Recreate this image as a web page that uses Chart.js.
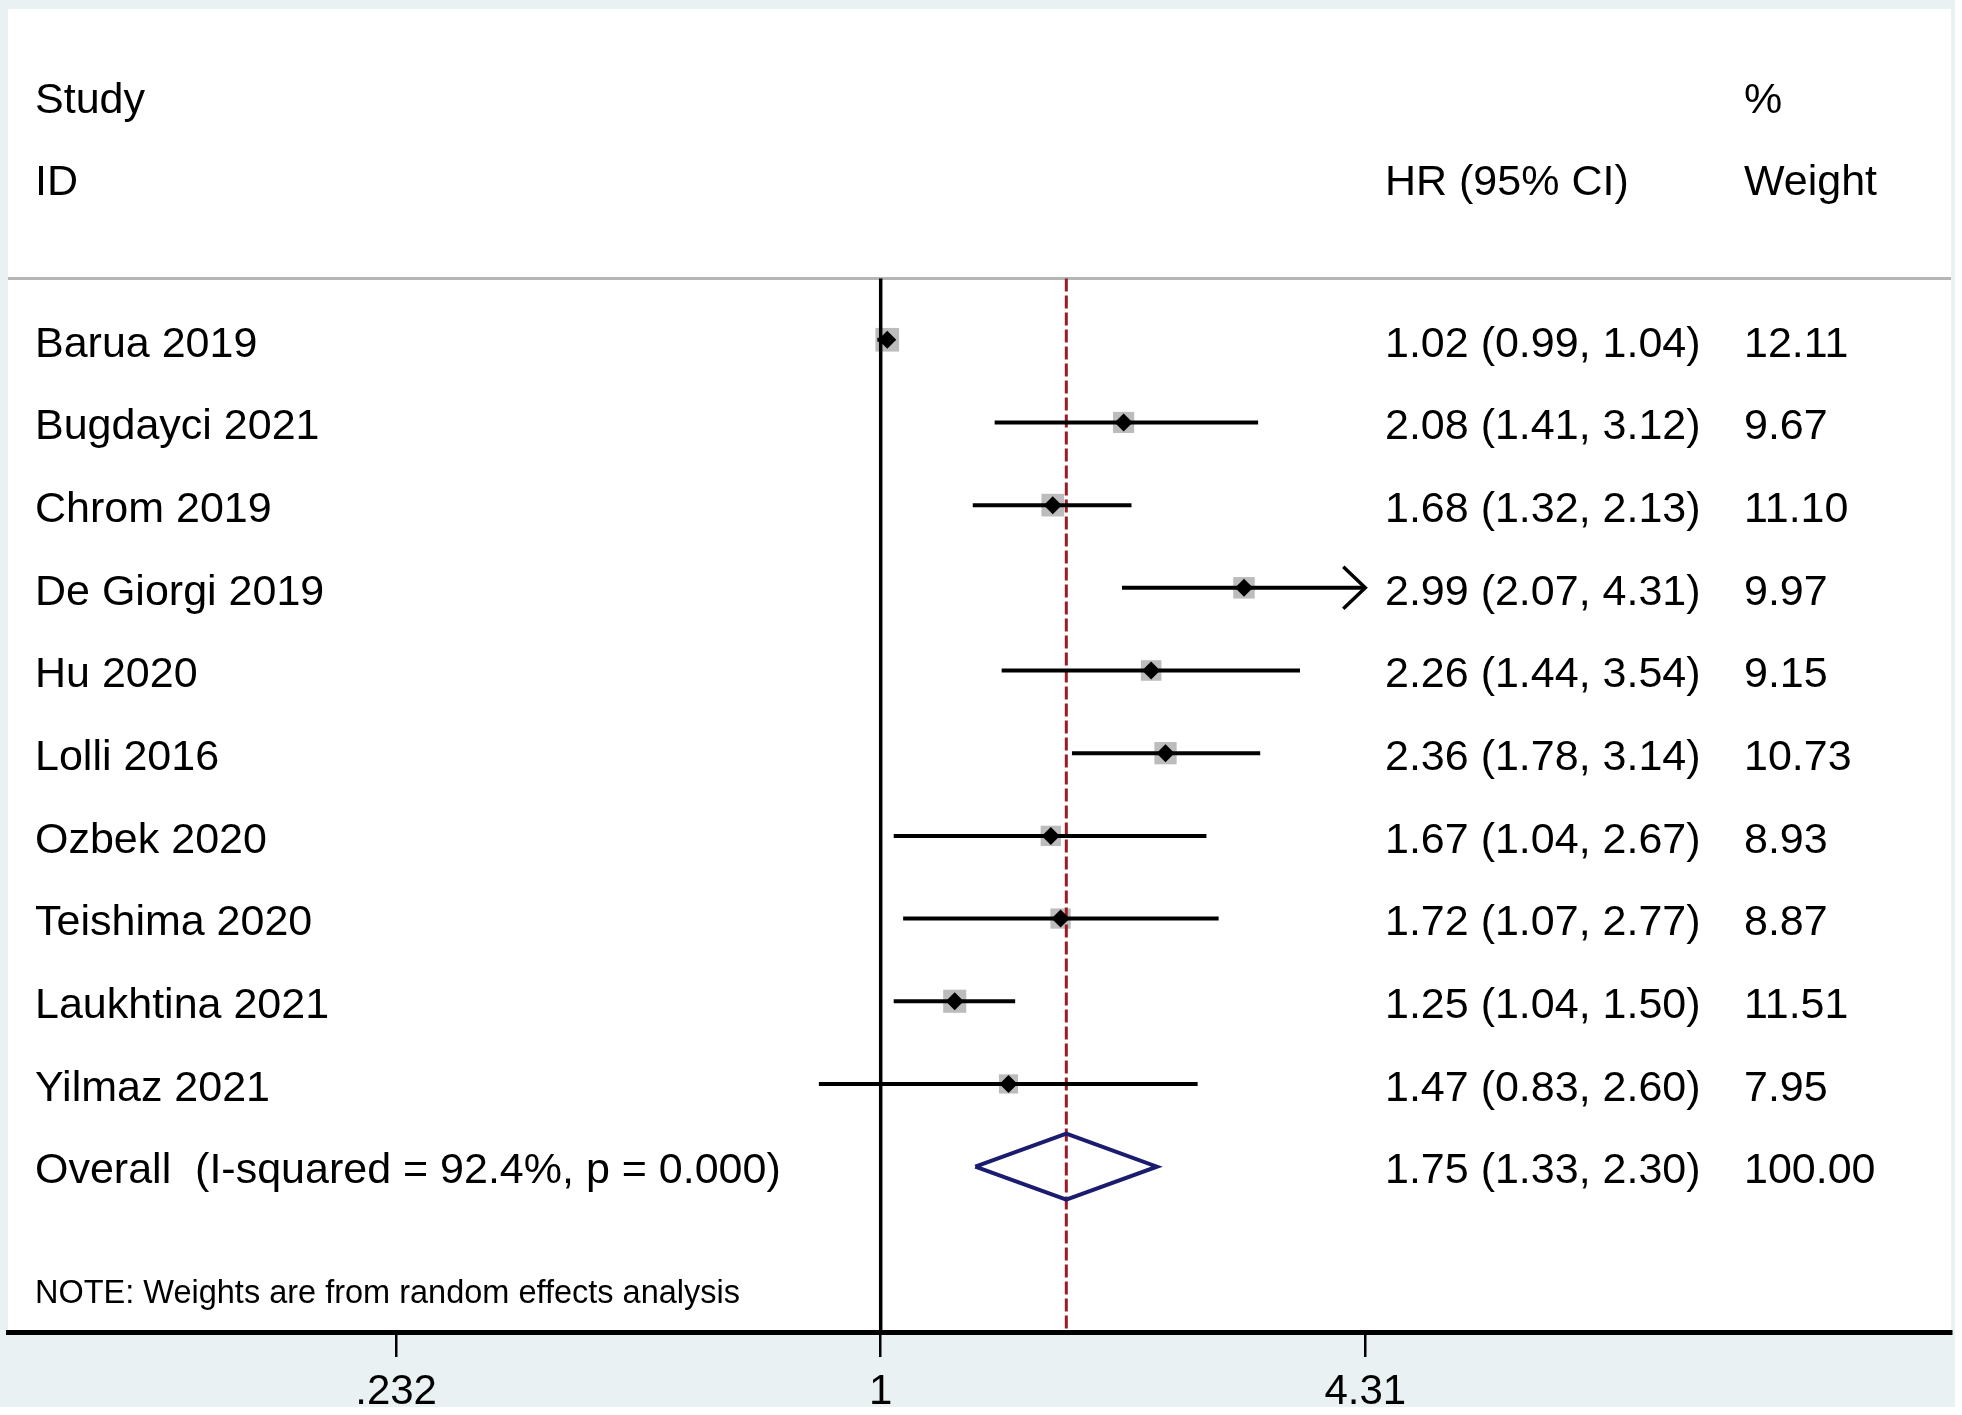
<!DOCTYPE html>
<html lang="en">
<head>
    <meta charset="UTF-8">
    <title>Forest plot</title>
    <script src="https://cdn.jsdelivr.net/npm/chart.js"></script>
    <style>
        body { margin: 0; background: #fff; overflow: hidden; }
        canvas { display: block; }
    </style>
</head>
<body>
    <canvas id="forest" width="1962" height="1415"></canvas>

    <script>
        // study rows, top to bottom
        const studies = ['Barua 2019', 'Bugdayci 2021', 'Chrom 2019', 'De Giorgi 2019', 'Hu 2020',
                         'Lolli 2016', 'Ozbek 2020', 'Teishima 2020', 'Laukhtina 2021', 'Yilmaz 2021'];
        const hr      = [1.02, 2.08, 1.68, 2.99, 2.26, 2.36, 1.67, 1.72, 1.25, 1.47];
        const lower   = [0.99, 1.41, 1.32, 2.07, 1.44, 1.78, 1.04, 1.07, 1.04, 0.83];
        const upper   = [1.04, 3.12, 2.13, 4.31, 3.54, 3.14, 2.67, 2.77, 1.50, 2.60];
        const weights = [12.11, 9.67, 11.10, 9.97, 9.15, 10.73, 8.93, 8.87, 11.51, 7.95];

        const overallLabel = 'Overall  (I-squared = 92.4%, p = 0.000)';
        const overallHr = 1.75, overallLower = 1.33, overallUpper = 2.30, overallWeight = 100.00;

        const tickValues = [0.232, 1, 4.31];
        const tickLabels = ['.232', '1', '4.31'];
        const note = 'NOTE: Weights are from random effects analysis';

        const FONT = '"Liberation Sans", Arial, sans-serif';
        const overallRow = studies.length;
        const headerLineRow = -0.74;

        const fmt = v => v.toFixed(2);
        const ciText = (e, l, u) => `${fmt(e)} (${fmt(l)}, ${fmt(u)})`;

        const datasets = [];

        // black point estimates (on top)
        datasets.push({
            data: hr.map((v, i) => ({ x: v, y: i })),
            pointStyle: 'rectRot', pointRadius: 9, backgroundColor: '#000', borderWidth: 0, order: 0
        });
        // confidence interval lines
        studies.forEach((s, i) => {
            datasets.push({
                data: [{ x: lower[i], y: i }, { x: upper[i], y: i }],
                showLine: true, pointRadius: 0, borderColor: '#000', borderWidth: 4, order: 1
            });
        });
        // overall diamond
        datasets.push({
            data: [
                { x: overallLower, y: overallRow },
                { x: overallHr, y: overallRow - 0.4 },
                { x: overallUpper, y: overallRow },
                { x: overallHr, y: overallRow + 0.4 },
                { x: overallLower, y: overallRow }
            ],
            showLine: true, pointRadius: 0, borderColor: '#1b1b6f', borderWidth: 4,
            borderJoinStyle: 'miter', order: 1
        });
        // overall effect dashed line
        datasets.push({
            data: [{ x: overallHr, y: headerLineRow }, { x: overallHr, y: 12 }],
            showLine: true, pointRadius: 0, borderColor: '#9b1c26', borderWidth: 3,
            borderDash: [13, 4], order: 2
        });
        // no-effect line
        datasets.push({
            data: [{ x: 1, y: headerLineRow }, { x: 1, y: 12 }],
            showLine: true, pointRadius: 0, borderColor: '#000', borderWidth: 3.5, order: 3
        });
        // grey weight boxes
        datasets.push({
            data: hr.map((v, i) => ({ x: v, y: i })),
            pointStyle: 'rect',
            pointRadius: weights.map(w => 6.8 * Math.sqrt(w) / Math.SQRT2),
            backgroundColor: '#bcbcbc', borderWidth: 0, order: 4
        });

        const frame = {
            id: 'frame',
            beforeDraw(chart) {
                const { ctx, chartArea: a } = chart;
                ctx.save();
                ctx.fillStyle = '#fff';
                ctx.fillRect(0, 0, chart.width, chart.height);
                ctx.fillStyle = '#eaf1f3';
                ctx.fillRect(0, 0, 1955, 1407);
                ctx.fillStyle = '#fff';
                ctx.fillRect(a.left, a.top, a.right - a.left, a.bottom - a.top);
                // header rule
                const y = chart.scales.y.getPixelForValue(headerLineRow);
                ctx.strokeStyle = '#b5b5b5';
                ctx.lineWidth = 3;
                ctx.beginPath();
                ctx.moveTo(a.left, y);
                ctx.lineTo(a.right, y);
                ctx.stroke();
                ctx.restore();
            },
            afterDraw(chart) {
                const { ctx, chartArea: a, scales: { x, y } } = chart;
                const colStudy = a.left + 27, colHr = a.left + 1377, colW = a.left + 1736;
                const rowY = r => y.getPixelForValue(r) + 5;
                ctx.save();
                ctx.fillStyle = '#000';
                ctx.textBaseline = 'middle';
                ctx.textAlign = 'left';
                ctx.font = `43px ${FONT}`;
                ctx.fillText('Study', colStudy, rowY(-3) + 4);
                ctx.fillText('ID', colStudy, rowY(-2) + 4);
                ctx.fillText('HR (95% CI)', colHr, rowY(-2) + 4);
                ctx.fillText('%', colW, rowY(-3) + 4);
                ctx.fillText('Weight', colW, rowY(-2) + 4);
                studies.forEach((s, i) => {
                    ctx.fillText(s, colStudy, rowY(i));
                    ctx.fillText(ciText(hr[i], lower[i], upper[i]), colHr, rowY(i));
                    ctx.fillText(fmt(weights[i]), colW, rowY(i));
                });
                ctx.fillText(overallLabel, colStudy, rowY(overallRow));
                ctx.fillText(ciText(overallHr, overallLower, overallUpper), colHr, rowY(overallRow));
                ctx.fillText(fmt(overallWeight), colW, rowY(overallRow));
                ctx.font = `32.5px ${FONT}`;
                ctx.fillText(note, colStudy, rowY(11.5) - 2);

                // arrows where the interval runs past the last tick
                const xMax = tickValues[tickValues.length - 1];
                ctx.strokeStyle = '#000';
                ctx.lineWidth = 3.5;
                upper.forEach((u, i) => {
                    if (u < xMax) return;
                    const px = x.getPixelForValue(xMax), py = y.getPixelForValue(i);
                    ctx.beginPath();
                    ctx.moveTo(px - 22, py - 21);
                    ctx.lineTo(px, py);
                    ctx.lineTo(px - 22, py + 21);
                    ctx.stroke();
                });
                ctx.restore();
            }
        };

        new Chart(document.getElementById('forest'), {
            type: 'scatter',
            data: { datasets },
            plugins: [frame],
            options: {
                responsive: false,
                animation: false,
                devicePixelRatio: 1,
                layout: { autoPadding: false, padding: { left: 8, right: 11, top: 9, bottom: 8 } },
                plugins: { legend: { display: false }, tooltip: { enabled: false } },
                elements: { line: { tension: 0 } },
                scales: {
                    x: {
                        type: 'logarithmic',
                        min: 0.072,
                        max: 25.2,
                        afterBuildTicks: s => { s.ticks = tickValues.map(v => ({ value: v })); },
                        afterFit: s => { s.height = 75; },
                        ticks: {
                            callback: (v) => tickLabels[tickValues.indexOf(v)] ?? '',
                            font: { family: FONT, size: 42 },
                            color: '#000',
                            padding: 10,
                            maxRotation: 0,
                            autoSkip: false
                        },
                        grid: { drawOnChartArea: false, color: '#000', lineWidth: 2.5, tickLength: 25 },
                        border: { display: true, color: '#000', width: 5 }
                    },
                    y: {
                        type: 'linear',
                        min: -4,
                        max: 12,
                        reverse: true,
                        display: false
                    }
                }
            }
        });
    </script>
</body>
</html>
